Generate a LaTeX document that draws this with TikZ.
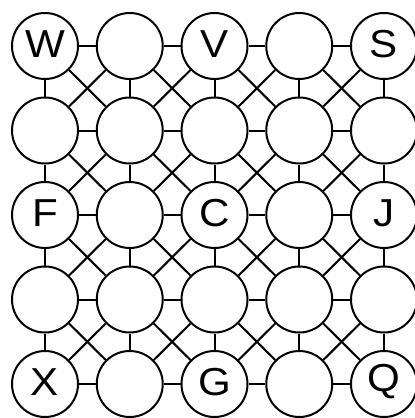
\documentclass[tikz,border=0pt]{standalone}
\usepackage{fontspec}
\setmainfont{Liberation Sans}[FakeStretch=1.08]
\begin{document}
\begin{tikzpicture}[x=1pt,y=-1pt,
  cell/.style={circle,draw=black,line width=2pt,minimum size=66pt,inner sep=0pt,fill=white},
  letter/.style={inner sep=0pt,yshift=2pt,font=\fontsize{39}{39}\selectfont},
  link/.style={draw=black,line width=2pt}]
\useasboundingbox (0,0) rectangle (415,418);
\foreach \r in {0,...,4}{
  \foreach \c in {0,...,4}{
    \node[cell] (n-\r-\c) at ({45+84.75*\c},{46+84.5*\r}) {};
  }
}
\node[letter] at (n-0-0) (tW) {W};
\node[letter] at (n-0-2) (tV) {V};
\node[letter] at (n-0-4) (tS) {S};
\node[letter] at (n-2-0) (tF) {F};
\node[letter] at (n-2-2) (tC) {C};
\node[letter] at (n-2-4) (tJ) {J};
\node[letter] at (n-4-0) (tX) {X};
\node[letter] at (n-4-2) (tG) {G};
\node[letter] at (n-4-4) (tQ) {Q};
\foreach \r in {0,...,4}{
  \foreach \c [evaluate=\c as \cn using int(\c+1)] in {0,...,3}{
    \draw[link] (n-\r-\c) -- (n-\r-\cn);
    \draw[link] (n-\c-\r) -- (n-\cn-\r);
  }
}
\foreach \r [evaluate=\r as \rn using int(\r+1)] in {0,...,3}{
  \foreach \c [evaluate=\c as \cn using int(\c+1)] in {0,...,3}{
    \draw[link] (n-\r-\c) -- (n-\rn-\cn);
    \draw[link] (n-\r-\cn) -- (n-\rn-\c);
  }
}
\end{tikzpicture}
\end{document}
